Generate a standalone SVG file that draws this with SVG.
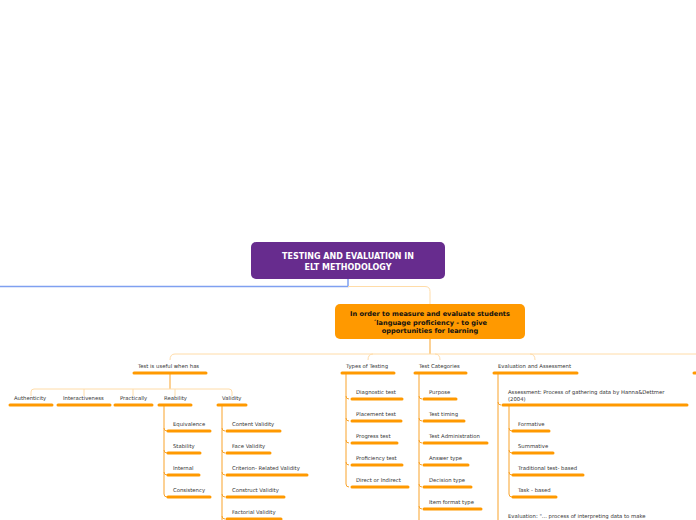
<svg xmlns="http://www.w3.org/2000/svg" width="696" height="520" viewBox="0 0 696 520">
<style>
text{font-family:"DejaVu Sans",Verdana,sans-serif;font-size:5.3px;fill:#333}
.u{stroke:#f90;stroke-width:3;stroke-linecap:round;fill:none}
.c{stroke:#f9a32a;stroke-width:1;fill:none}
.l{stroke:#ffdca8;stroke-width:1;fill:none}
.b{font-weight:bold;fill:#111;font-size:6.6px;text-anchor:middle}
</style>
<rect width="696" height="520" fill="#fff"/>
<g id="connectors">
<path d="M0 286.5H348V279" stroke="#7fa0f0" stroke-width="1.5" fill="none"/>
<path class="l" d="M348 286.5H425Q430 286.5 430 291.5V304"/>
<path class="c" d="M430 339V354"/>
<path class="l" d="M175 354H696M170 360Q170 354 175 354M368 360Q368 354 373 354M440 360Q440 354 435 354M535 360Q535 354 530 354"/>
<path class="c" d="M170 373V389"/>
<path class="l" d="M31 396V392Q31 389 34 389H229Q232 389 232 392V396M84 396V389M133 396V389M175 396V389"/>
<path class="c" d="M164 405V494Q164 497 167 497M164 428Q164 431 167 431M164 450Q164 453 167 453M164 472Q164 475 167 475"/>
<path class="c" d="M222 405V520M222 428Q222 431 225 431M222 450Q222 453 225 453M222 472Q222 475 225 475M222 494Q222 497 225 497M222 516Q222 519 225 519"/>
<path class="c" d="M346 373V484Q346 487 349 487M346 396Q346 399 349 399M346 418Q346 421 349 421M346 440Q346 443 349 443M346 462Q346 465 349 465"/>
<path class="c" d="M419 373V520M419 396Q419 399 422 399M419 418Q419 421 422 421M419 440Q419 443 422 443M419 462Q419 465 422 465M419 484Q419 487 422 487M419 506Q419 509 422 509"/>
<path class="c" d="M498 373V520M498 402Q498 405 501 405"/>
<path class="c" d="M509 405V494Q509 497 512 497M509 428Q509 431 512 431M509 450Q509 453 512 453M509 472Q509 475 512 475"/>
</g>
<g id="root"><rect x="251" y="242" width="194" height="37" rx="5" fill="#672c8e"/>
<text x="348" y="259" class="b" style="fill:#fff;font-size:8px">TESTING AND EVALUATION IN</text>
<text x="348" y="270" class="b" style="fill:#fff;font-size:8px">ELT METHODOLOGY</text></g>
<g id="main"><rect x="335" y="304" width="190" height="35" rx="5" fill="#f90"/>
<text x="430" y="316" class="b">In order to measure and evaluate students</text>
<text x="430" y="324.5" class="b">´language proficiency - to give</text>
<text x="430" y="332.5" class="b">opportunities for learning</text></g>
<g id="useful"><text x="138" y="368">Test is useful when has</text><path class="u" d="M134 373H206"/></g>
<g id="authenticity"><text x="14" y="400">Authenticity</text><path class="u" d="M10 405H52"/></g>
<g id="interactiveness"><text x="63" y="400">Interactiveness</text><path class="u" d="M58 405H110"/></g>
<g id="practically"><text x="120" y="400">Practically</text><path class="u" d="M115 405H152"/></g>
<g id="reability"><text x="164" y="400">Reability</text><path class="u" d="M159 405H191"/></g>
<g id="validity"><text x="222" y="400">Validity</text><path class="u" d="M218 405H246"/></g>
<g id="rel-children">
<text x="173" y="426">Equivalence</text><path class="u" d="M168 431H210"/>
<text x="173" y="448">Stability</text><path class="u" d="M168 453H200"/>
<text x="173" y="470">Internal</text><path class="u" d="M168 475H199"/>
<text x="173" y="492">Consistency</text><path class="u" d="M168 497H210"/></g>
<g id="val-children">
<text x="232" y="426">Content Validity</text><path class="u" d="M227 431H280"/>
<text x="232" y="448">Face Validity</text><path class="u" d="M227 453H270"/>
<text x="232" y="470">Criterion- Related Validity</text><path class="u" d="M227 475H307"/>
<text x="232" y="492">Construct Validity</text><path class="u" d="M227 497H284"/>
<text x="232" y="514">Factorial Validity</text><path class="u" d="M227 519H281"/></g>
<g id="types"><text x="346" y="368">Types of Testing</text><path class="u" d="M342 373H394"/>
<text x="356" y="394">Diagnostic test</text><path class="u" d="M352 399H402"/>
<text x="356" y="416">Placement test</text><path class="u" d="M352 421H401"/>
<text x="356" y="438">Progress test</text><path class="u" d="M352 443H397"/>
<text x="356" y="460">Proficiency test</text><path class="u" d="M352 465H402"/>
<text x="356" y="482">Direct or Indirect</text><path class="u" d="M352 487H408"/></g>
<g id="categories"><text x="419" y="368">Test Categories</text><path class="u" d="M415 373H466"/>
<text x="429" y="394">Purpose</text><path class="u" d="M424 399H456"/>
<text x="429" y="416">Test timing</text><path class="u" d="M424 421H464"/>
<text x="429" y="438">Test Administration</text><path class="u" d="M424 443H487"/>
<text x="429" y="460">Answer type</text><path class="u" d="M424 465H468"/>
<text x="429" y="482">Decision type</text><path class="u" d="M424 487H471"/>
<text x="429" y="504">Item format type</text><path class="u" d="M424 509H481"/></g>
<g id="evaluation"><text x="498" y="368">Evaluation and Assessment</text><path class="u" d="M494 373H577"/>
<text x="508" y="394">Assessment: Process of gathering data by Hanna&amp;Dettmer</text>
<text x="508" y="401">(2004)</text><path class="u" d="M503 405H687"/>
<text x="518" y="426">Formative</text><path class="u" d="M513 431H549"/>
<text x="518" y="448">Summative</text><path class="u" d="M513 453H553"/>
<text x="518" y="470">Traditional test- based</text><path class="u" d="M513 475H583"/>
<text x="518" y="492">Task - based</text><path class="u" d="M513 497H556"/>
<text x="508" y="518">Evaluation: "... process of interpreting data to make</text></g>
<g id="offscreen"><path class="u" d="M694 373H697"/></g>
</svg>
